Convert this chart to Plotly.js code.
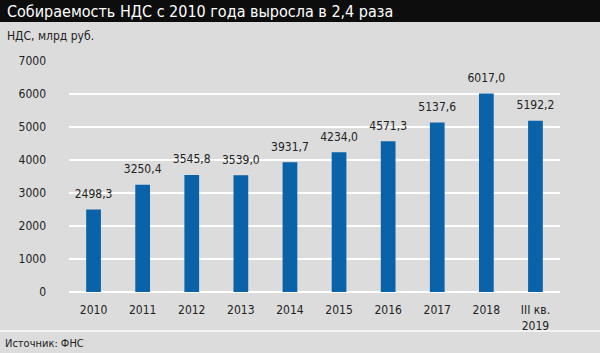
<!DOCTYPE html>
<html><head><meta charset="utf-8">
<script src="https://cdn.plot.ly/plotly-3.0.1.min.js"></script>
<style>html,body{margin:0;padding:0;background:#dcdcdc;}#chart{width:600px;height:353px;}</style>
</head><body><div id="chart"></div>
<script>
const categories = ["2010","2011","2012","2013","2014","2015","2016","2017","2018","2019"];
const tickLabels = ["2010","2011","2012","2013","2014","2015","2016","2017","2018","III кв.<br>2019"];
const vatValues = [2498.3, 3250.4, 3545.8, 3539.0, 3931.7, 4234.0, 4571.3, 5137.6, 6017.0, 5192.2];
const valueLabels = vatValues.map(v => v.toFixed(1).replace('.', ','));

const FONT = '"DejaVu Sans Condensed", "Liberation Sans Narrow", sans-serif';
const data = [{
  type: 'bar', x: categories, y: vatValues,
  marker: {color: '#0a62a8'},
  hoverinfo: 'none'
}, {
  type: 'scatter', mode: 'markers+text', x: categories, y: vatValues,
  marker: {size: 12, opacity: 0}, cliponaxis: false,
  text: valueLabels, textposition: 'top center',
  textfont: {family: FONT, size: 12, color: '#222'},
  hoverinfo: 'none'
}];
const layout = {
  width: 600, height: 353,
  margin: {l: 69, r: 40, t: 61, b: 61},
  paper_bgcolor: '#dcdcdc', plot_bgcolor: '#dcdcdc',
  font: {family: FONT, size: 12, color: '#222'},
  bargap: 0.7, showlegend: false,
  xaxis: {type: 'category', range: [-0.5, 9.5], tickmode: 'array', tickvals: categories, ticktext: tickLabels,
    showgrid: false, zeroline: false, showline: false, ticks: '', ticklabelstandoff: 9,
    tickfont: {family: FONT, size: 12, color: '#222'}},
  yaxis: {range: [0, 7000], dtick: 1000, showgrid: true, gridcolor: '#ffffff', gridwidth: 1.5,
    zeroline: true, zerolinecolor: '#ffffff', zerolinewidth: 1.5, showline: false, ticks: '',
    ticklabelstandoff: 22, tickfont: {family: FONT, size: 12, color: '#222'}},
  shapes: [
    {type: 'rect', xref: 'paper', yref: 'paper', x0: -0.2, x1: 1.2, y0: 1 + 39/231, y1: 1.5,
      fillcolor: '#0d0d0d', line: {width: 0}, layer: 'below'},
    {type: 'line', xref: 'paper', yref: 'paper', x0: -0.2, x1: 1.2, y0: -39/231, y1: -39/231,
      line: {color: '#f2f2f2', width: 2}}
  ],
  annotations: [
    {text: 'Собираемость НДС с 2010 года выросла в 2,4 раза', xref: 'paper', yref: 'paper',
      x: -64/491, y: 1 + 49.5/231, xanchor: 'left', yanchor: 'middle', showarrow: false,
      font: {family: FONT, size: 16, color: '#ffffff'}},
    {text: 'НДС, млрд руб.', xref: 'paper', yref: 'paper',
      x: -64/491, y: 1 + 25/231, xanchor: 'left', yanchor: 'middle', showarrow: false,
      font: {family: FONT, size: 12, color: '#222'}},
    {text: 'Источник: ФНС', xref: 'paper', yref: 'paper',
      x: -66/491, y: -51/231, xanchor: 'left', yanchor: 'middle', showarrow: false,
      font: {family: FONT, size: 11, color: '#222'}}
  ]
};
Plotly.newPlot('chart', data, layout, {displayModeBar: false, staticPlot: true});
</script></body></html>
